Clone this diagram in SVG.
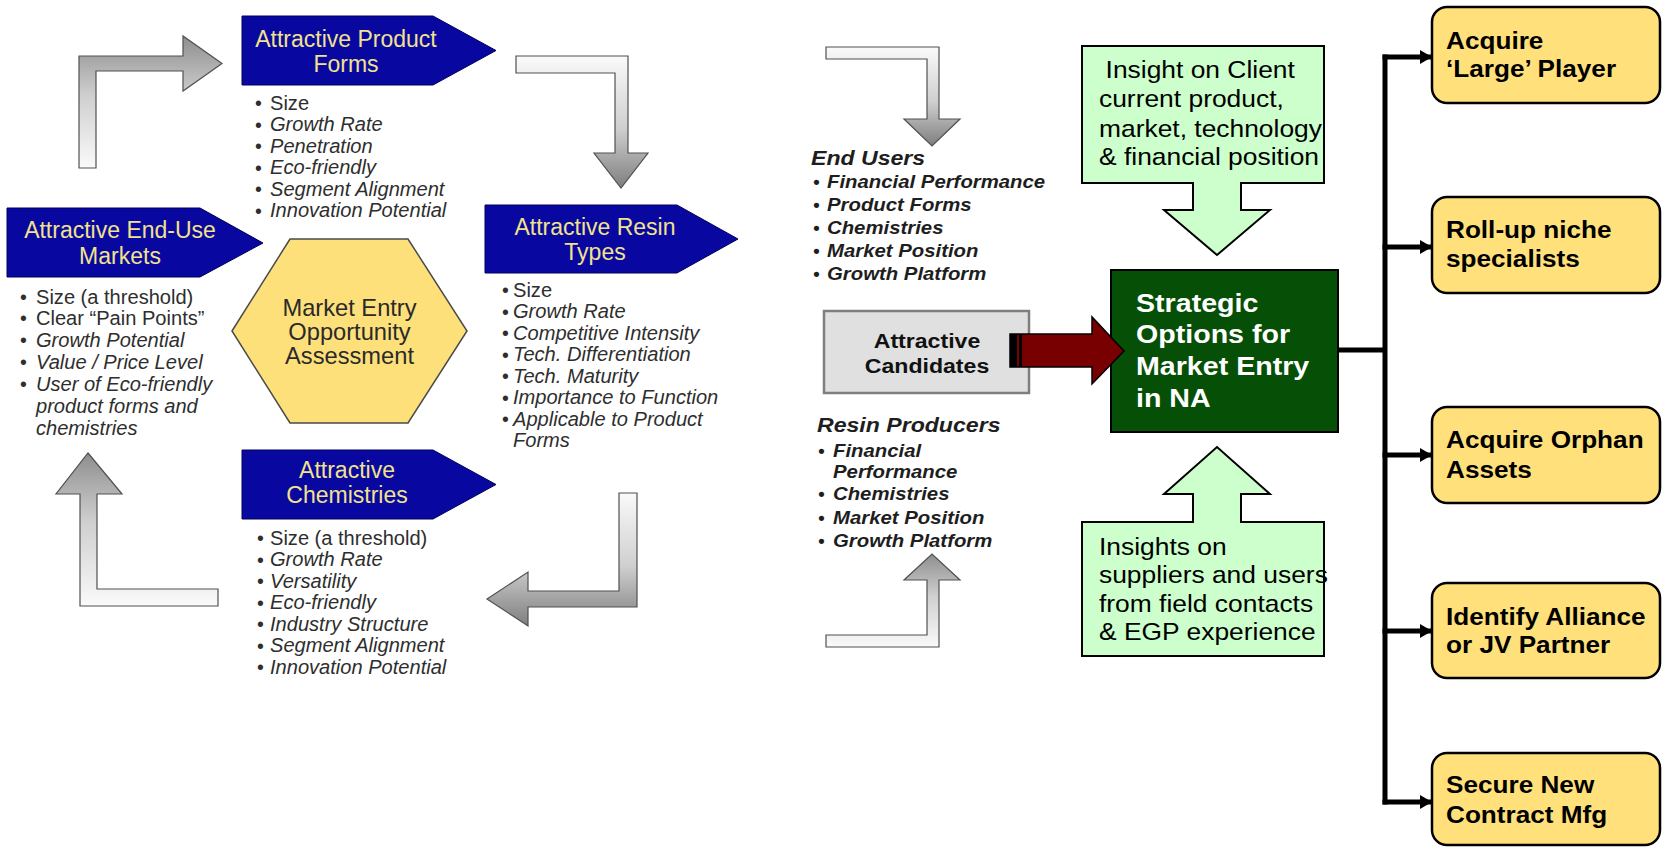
<svg xmlns="http://www.w3.org/2000/svg" width="1663" height="847" viewBox="0 0 1663 847">
  <defs>
    <style>
      text { font-family: "Liberation Sans", Arial, Helvetica, sans-serif; }
      .pent { fill: #0808a0; stroke: #00005c; stroke-width: 1; }
      .ptxt { font-size: 23px; fill: #f2e28c; text-anchor: middle; }
      .bul { font-size: 19.5px; fill: #2e2e2e; }
      .it { font-style: italic; }
      .hex { fill: #fde07a; stroke: #4a4a4a; stroke-width: 1.5; }
      .htxt { font-size: 23px; fill: #2a2a2a; text-anchor: middle; }
      .garrow { stroke: #505050; stroke-width: 1.2; stroke-linejoin: miter; }
      .rhead { font-size: 21px; font-weight: bold; font-style: italic; fill: #1e1e1e; }
      .rbul { font-size: 18.5px; font-weight: bold; font-style: italic; fill: #1e1e1e; }
      .cand { fill: #e0e0e0; stroke: #7f7f7f; stroke-width: 2.5; }
      .ctxt { font-size: 21px; font-weight: bold; fill: #111; text-anchor: middle; }
      .callout { fill: #ccffcc; stroke: #000; stroke-width: 2; }
      .coTxt { font-size: 24px; fill: #000; }
      .core { fill: #064f06; stroke: #000; stroke-width: 2; }
      .coreTxt { font-size: 26px; font-weight: bold; fill: #fff; }
      .opt { fill: #ffe07a; stroke: #000; stroke-width: 2.5; }
      .optTxt { font-size: 24px; font-weight: bold; fill: #000; }
      .link { stroke: #000; stroke-width: 5; fill: none; }
    </style>
    <linearGradient id="gUp" x1="0" y1="1" x2="0" y2="0">
      <stop offset="0" stop-color="#fafafa"/>
      <stop offset="0.55" stop-color="#cfcfcf"/>
      <stop offset="1" stop-color="#8e8e8e"/>
    </linearGradient>
    <linearGradient id="gDown" x1="0" y1="0" x2="0" y2="1">
      <stop offset="0" stop-color="#fafafa"/>
      <stop offset="0.55" stop-color="#cfcfcf"/>
      <stop offset="1" stop-color="#7e7e7e"/>
    </linearGradient>
    <marker id="tri" markerUnits="userSpaceOnUse" markerWidth="12" markerHeight="14" refX="12" refY="7" orient="auto">
      <path d="M0,0 L12,7 L0,14 Z" fill="#000"/>
    </marker>
  </defs>

  <rect width="1663" height="847" fill="#fff"/>

  <!-- cycle and flow connectors -->
  <g id="connectors">
    <path class="garrow" fill="url(#gUp)" d="M79,168 V56 H183 V36 L222,63.5 L183,91 V71 H96 V168 Z"/>
    <path class="garrow" fill="url(#gDown)" d="M516,56 H628 V153 H648 L621,188 L594,153 H615 V73 H516 Z"/>
    <path class="garrow" fill="url(#gDown)" d="M619,493 H637 V607 H528 V626 L487,599 L528,572 V591 H619 Z"/>
    <path class="garrow" fill="url(#gUp)" d="M88,453 L122,494 H97 V589 H218 V606 H80 V494 H56 Z"/>
    <path class="garrow" fill="url(#gDown)" d="M826,47 H939 V119 H960 L932,146 L904,119 H927 V59 H826 Z"/>
    <path class="garrow" fill="url(#gUp)" d="M826,647 H939 V580 H960 L932,554 L904,580 H927 V635 H826 Z"/>
    <!-- bracket to the strategic options -->
    <path class="link" d="M1338,350 H1385"/>
    <path class="link" d="M1385,54.5 V804.5"/>
    <path class="link" marker-end="url(#tri)" d="M1382.5,57 H1432"/>
    <path class="link" marker-end="url(#tri)" d="M1382.5,247 H1432"/>
    <path class="link" marker-end="url(#tri)" d="M1382.5,455 H1432"/>
    <path class="link" marker-end="url(#tri)" d="M1382.5,631 H1432"/>
    <path class="link" marker-end="url(#tri)" d="M1382.5,802 H1432"/>
  </g>

  <!-- assessment cycle -->
  <g id="product-forms">
    <path class="pent" d="M242,16 L433,16 L496,50.5 L433,85 L242,85 Z"/>
    <text class="ptxt" transform="translate(346,0)"><tspan x="0" y="47">Attractive Product</tspan><tspan x="0" y="72">Forms</tspan></text>
    <text class="bul"><tspan x="255" y="110">•</tspan><tspan x="255" y="131.5">•</tspan><tspan x="255" y="153">•</tspan><tspan x="255" y="174.5">•</tspan><tspan x="255" y="196">•</tspan><tspan x="255" y="217.5">•</tspan></text>
    <text class="bul" transform="translate(270,0) scale(1.03,1)"><tspan x="0" y="110">Size</tspan><tspan class="it" x="0" y="131.5">Growth Rate</tspan><tspan class="it" x="0" y="153">Penetration</tspan><tspan class="it" x="0" y="174.5">Eco-friendly</tspan><tspan class="it" x="0" y="196">Segment Alignment</tspan><tspan class="it" x="0" y="217.5">Innovation Potential</tspan></text>
  </g>

  <g id="resin-types">
    <path class="pent" d="M485,205 L677,205 L738,239 L677,273 L485,273 Z"/>
    <text class="ptxt" transform="translate(595,0)"><tspan x="0" y="235">Attractive Resin</tspan><tspan x="0" y="260">Types</tspan></text>
    <text class="bul"><tspan x="502" y="297">•</tspan><tspan x="502" y="318.5">•</tspan><tspan x="502" y="340">•</tspan><tspan x="502" y="361.5">•</tspan><tspan x="502" y="383">•</tspan><tspan x="502" y="404.5">•</tspan><tspan x="502" y="426">•</tspan></text>
    <text class="bul" transform="translate(513,0) scale(1.03,1)"><tspan x="0" y="297">Size</tspan><tspan class="it" x="0" y="318.5">Growth Rate</tspan><tspan class="it" x="0" y="340">Competitive Intensity</tspan><tspan class="it" x="0" y="361.5">Tech. Differentiation</tspan><tspan class="it" x="0" y="383">Tech. Maturity</tspan><tspan class="it" x="0" y="404.5">Importance to Function</tspan><tspan class="it" x="0" y="426">Applicable to Product</tspan><tspan class="it" x="0" y="447.5">Forms</tspan></text>
  </g>

  <g id="end-use-markets">
    <path class="pent" d="M7,208 L200,208 L263,243 L200,277 L7,277 Z"/>
    <text class="ptxt" transform="translate(120,0)"><tspan x="0" y="238">Attractive End-Use</tspan><tspan x="0" y="264">Markets</tspan></text>
    <text class="bul"><tspan x="20" y="304">•</tspan><tspan x="20" y="325">•</tspan><tspan x="20" y="347">•</tspan><tspan x="20" y="369">•</tspan><tspan x="20" y="391">•</tspan></text>
    <text class="bul" transform="translate(36,0) scale(1.03,1)"><tspan x="0" y="304">Size (a threshold)</tspan><tspan x="0" y="325">Clear “Pain Points”</tspan><tspan class="it" x="0" y="347">Growth Potential</tspan><tspan class="it" x="0" y="369">Value / Price Level</tspan><tspan class="it" x="0" y="391">User of Eco-friendly</tspan><tspan class="it" x="0" y="413">product forms and</tspan><tspan class="it" x="0" y="435">chemistries</tspan></text>
  </g>

  <g id="assessment">
    <path class="hex" d="M232,331 L290,239 L408,239 L467,331 L408,423 L290,423 Z"/>
    <text class="htxt" transform="translate(349.5,0) scale(1.03,1)"><tspan x="0" y="316">Market Entry</tspan><tspan x="0" y="340">Opportunity</tspan><tspan x="0" y="364">Assessment</tspan></text>
  </g>

  <g id="chemistries">
    <path class="pent" d="M242,450 L433,450 L496,484.5 L433,519 L242,519 Z"/>
    <text class="ptxt" transform="translate(347,0)"><tspan x="0" y="478">Attractive</tspan><tspan x="0" y="503">Chemistries</tspan></text>
    <text class="bul"><tspan x="257" y="545">•</tspan><tspan x="257" y="566.5">•</tspan><tspan x="257" y="588">•</tspan><tspan x="257" y="609.5">•</tspan><tspan x="257" y="631">•</tspan><tspan x="257" y="652.5">•</tspan><tspan x="257" y="674">•</tspan></text>
    <text class="bul" transform="translate(270,0) scale(1.03,1)"><tspan x="0" y="545">Size (a threshold)</tspan><tspan class="it" x="0" y="566.5">Growth Rate</tspan><tspan class="it" x="0" y="588">Versatility</tspan><tspan class="it" x="0" y="609.5">Eco-friendly</tspan><tspan class="it" x="0" y="631">Industry Structure</tspan><tspan class="it" x="0" y="652.5">Segment Alignment</tspan><tspan class="it" x="0" y="674">Innovation Potential</tspan></text>
  </g>

  <!-- candidate screening -->
  <g id="end-users">
    <text class="rhead" transform="translate(811,0) scale(1.1,1)"><tspan x="0" y="165">End Users</tspan></text>
    <text class="rbul"><tspan x="813" y="188">•</tspan><tspan x="813" y="211">•</tspan><tspan x="813" y="234">•</tspan><tspan x="813" y="257">•</tspan><tspan x="813" y="280">•</tspan></text>
    <text class="rbul" transform="translate(827,0) scale(1.1,1)"><tspan x="0" y="188">Financial Performance</tspan><tspan x="0" y="211">Product Forms</tspan><tspan x="0" y="234">Chemistries</tspan><tspan x="0" y="257">Market Position</tspan><tspan x="0" y="280">Growth Platform</tspan></text>
  </g>

  <g id="resin-producers">
    <text class="rhead" transform="translate(817,0) scale(1.1,1)"><tspan x="0" y="432">Resin Producers</tspan></text>
    <text class="rbul"><tspan x="818" y="457">•</tspan><tspan x="818" y="500">•</tspan><tspan x="818" y="524">•</tspan><tspan x="818" y="547">•</tspan></text>
    <text class="rbul" transform="translate(833,0) scale(1.1,1)"><tspan x="0" y="457">Financial</tspan><tspan x="0" y="478">Performance</tspan><tspan x="0" y="500">Chemistries</tspan><tspan x="0" y="524">Market Position</tspan><tspan x="0" y="547">Growth Platform</tspan></text>
  </g>

  <g id="attractive-candidates">
    <rect class="cand" x="824" y="311" width="205" height="82"/>
    <text class="ctxt" transform="translate(927,0) scale(1.1,1)"><tspan x="0" y="348">Attractive</tspan><tspan x="0" y="373">Candidates</tspan></text>
  </g>

  <g id="client-insight">
    <path class="callout" d="M1082,46 H1324 V183 H1241 V210 H1270 L1217,255 L1164,210 H1193 V183 H1082 Z"/>
    <text class="coTxt" transform="translate(1099,0) scale(1.1,1)"><tspan x="6" y="78">Insight on Client</tspan><tspan x="0" y="107">current product,</tspan><tspan x="0" y="137">market, technology</tspan><tspan x="0" y="165">&amp; financial position</tspan></text>
  </g>

  <g id="field-insight">
    <path class="callout" d="M1082,522 H1193 V494 H1164 L1217,447 L1270,494 H1241 V522 H1324 V656 H1082 Z"/>
    <text class="coTxt" transform="translate(1099,0) scale(1.1,1)"><tspan x="0" y="555">Insights on</tspan><tspan x="0" y="583">suppliers and users</tspan><tspan x="0" y="612">from field contacts</tspan><tspan x="0" y="640">&amp; EGP experience</tspan></text>
  </g>

  <g id="strategic-options">
    <rect class="core" x="1111" y="270" width="227" height="162"/>
    <text class="coreTxt" transform="translate(1136,0) scale(1.1,1)"><tspan x="0" y="312">Strategic</tspan><tspan x="0" y="343">Options for</tspan><tspan x="0" y="375">Market Entry</tspan><tspan x="0" y="407">in NA</tspan></text>
  </g>

  <!-- candidates feed the strategic options -->
  <g id="feed-arrow">
    <path d="M1010,334 L1092,334 L1092,317 L1124,351 L1092,384 L1092,367 L1010,367 Z" fill="#780000" stroke="#000" stroke-width="1.5"/>
    <rect x="1010" y="334" width="7" height="33" fill="#000"/>
    <rect x="1019" y="334" width="3" height="33" fill="#000"/>
  </g>

  <!-- entry options -->
  <g id="opt-large-player">
    <rect class="opt" x="1432" y="7" width="228" height="96" rx="15"/>
    <text class="optTxt" transform="translate(1446,0) scale(1.09,1)"><tspan x="0" y="49">Acquire</tspan><tspan x="0" y="77">‘Large’ Player</tspan></text>
  </g>
  <g id="opt-roll-up">
    <rect class="opt" x="1432" y="197" width="228" height="96" rx="15"/>
    <text class="optTxt" transform="translate(1446,0) scale(1.09,1)"><tspan x="0" y="238">Roll-up niche</tspan><tspan x="0" y="267">specialists</tspan></text>
  </g>
  <g id="opt-orphan-assets">
    <rect class="opt" x="1432" y="407" width="228" height="96" rx="15"/>
    <text class="optTxt" transform="translate(1446,0) scale(1.09,1)"><tspan x="0" y="448">Acquire Orphan</tspan><tspan x="0" y="478">Assets</tspan></text>
  </g>
  <g id="opt-alliance">
    <rect class="opt" x="1432" y="583" width="228" height="95" rx="15"/>
    <text class="optTxt" transform="translate(1446,0) scale(1.09,1)"><tspan x="0" y="625">Identify Alliance</tspan><tspan x="0" y="653">or JV Partner</tspan></text>
  </g>
  <g id="opt-contract-mfg">
    <rect class="opt" x="1432" y="753" width="228" height="92" rx="15"/>
    <text class="optTxt" transform="translate(1446,0) scale(1.09,1)"><tspan x="0" y="793">Secure New</tspan><tspan x="0" y="823">Contract Mfg</tspan></text>
  </g>
</svg>
